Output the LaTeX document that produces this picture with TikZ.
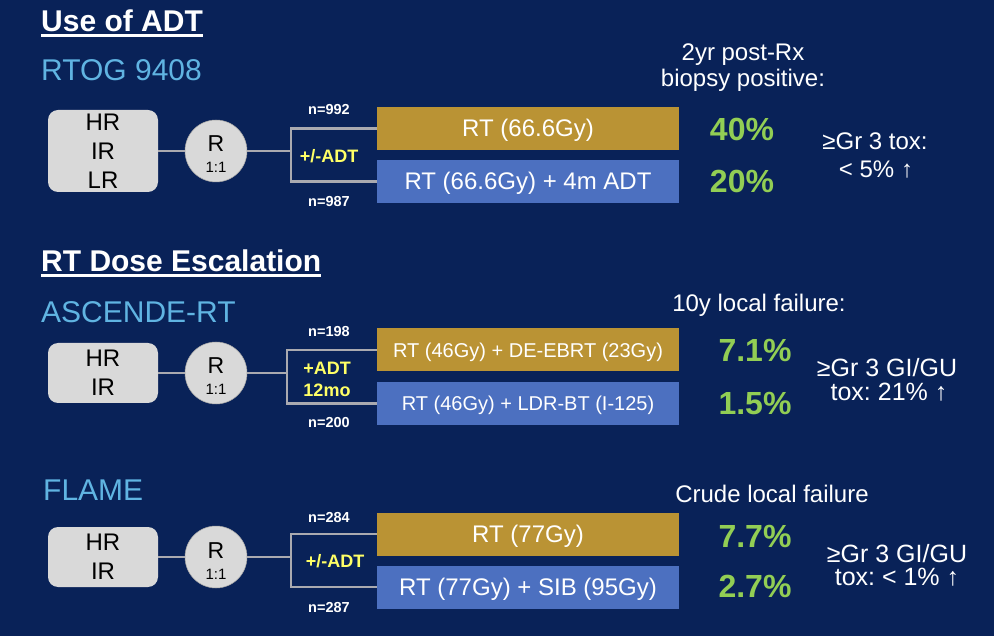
\documentclass[tikz,border=0pt]{standalone}
\usepackage{fontspec}
\setmainfont{Liberation Sans}
\usetikzlibrary{calc}
\definecolor{bg}{RGB}{9,34,88}
\definecolor{ttl}{RGB}{96,180,226}
\definecolor{gold}{RGB}{186,147,52}
\definecolor{bluebox}{RGB}{76,112,192}
\definecolor{grn}{RGB}{146,206,84}
\definecolor{ylw}{RGB}{255,255,102}
\definecolor{lgray}{RGB}{217,217,217}
\definecolor{lcol}{RGB}{170,170,176}
\frenchspacing
\begin{document}
\begin{tikzpicture}[x=1pt,y=-1pt,
  txt/.style={inner sep=0pt, anchor=base, text=white},
  hd/.style={txt, anchor=base west, font={\bfseries\fontsize{30}{36}\selectfont}},
  sub/.style={txt, anchor=base west, text=ttl, font={\fontsize{30}{36}\selectfont}},
  f24/.style={font={\fontsize{24}{29}\selectfont}},
  f25/.style={font={\fontsize{25}{29}\selectfont}},
  nlab/.style={txt, font={\bfseries\fontsize{14.5}{16}\selectfont}},
  adt/.style={txt, text=ylw, font={\bfseries\fontsize{18}{21}\selectfont}},
  pct/.style={txt, text=grn, font={\bfseries\fontsize{32}{36}\selectfont}},
  grp/.style={rounded corners=10pt, fill=lgray, align=center, text=black,
    inner sep=0pt, minimum width=110pt, font={\fontsize{24}{29}\selectfont}},
  rnd/.style={circle, fill=lgray, draw=lgray!75!black, line width=0.5pt,
    minimum size=62pt, inner sep=0pt},
  arm/.style={minimum width=302pt, minimum height=43pt, inner sep=0pt,
    text=white, text height=17pt, text depth=0pt},
  conn/.style={draw=lcol, line width=2.6pt},
  uline/.style={draw=white, line width=2.6pt}
]
\fill[bg] (0,0) rectangle (994,636);
\useasboundingbox (0,0) rectangle (994,636);

% ---------- Section 1 ----------
\node[hd] (h1) at (41,32) {Use of ADT};
\draw[uline] ([yshift=-3.5pt]h1.base west) -- ([yshift=-3.5pt]h1.base east);
\node[sub] (s1) at (41,81) {RTOG 9408};

\node[grp, minimum height=82pt] (b1) at (103,151) {HR\\IR\\LR};
\node[rnd] (r1) at (216,151) {};
\node[txt, font={\fontsize{23}{23}\selectfont}, text=black] (r1a) at (216,152) {R};
\node[txt, font={\fontsize{15}{15}\selectfont}, text=black] (r1b) at (216,173) {1:1};

\node[arm, fill=gold, f24] (g1) at (528,128.5) {RT (66.6Gy)};
\node[arm, fill=bluebox, f24] (u1) at (528,181.5) {RT (66.6Gy) + 4m ADT};
\coordinate (j1) at (291,151);
\draw[conn] (b1) -- (r1);
\draw[conn] (r1) -- (j1);
\draw[conn] (g1.west) -| (j1);
\draw[conn] (u1.west) -| (j1);
\node[adt] (a1) at (329,163) {+/-ADT};
\node[nlab] (n1a) at (329,115) {n=992};
\node[nlab] (n1b) at (329,207) {n=987};

\node[txt, f24] (c1a) at (743,61) {2yr post-Rx};
\node[txt, f24] (c1b) at (743,87) {biopsy positive:};
\node[pct] (p1a) at (742,141) {40\%};
\node[pct] (p1b) at (742,193) {20\%};
\node[txt, f24] (t1a) at (875,150) {≥Gr 3 tox:};
\node[txt, f24] (t1b) at (876,178) {< 5\% ↑};

% ---------- Section 2 ----------
\node[hd] (h2) at (41,272) {RT Dose Escalation};
\draw[uline] ([yshift=-3.5pt]h2.base west) -- ([yshift=-3.5pt]h2.base east);
\node[sub] (s2) at (41,323) {ASCENDE-RT};

\node[grp, minimum height=60pt] (b2) at (103,373) {HR\\IR};
\node[rnd] (r2) at (216,373) {};
\node[txt, font={\fontsize{23}{23}\selectfont}, text=black] (r2a) at (216,374) {R};
\node[txt, font={\fontsize{15}{15}\selectfont}, text=black] (r2b) at (216,395) {1:1};

\node[arm, fill=gold, font={\fontsize{20}{24}\selectfont}, text height=14.3pt] (g2) at (528,350) {RT (46Gy) + DE-EBRT (23Gy)};
\node[arm, fill=bluebox, font={\fontsize{20}{24}\selectfont}, text height=14.3pt] (u2) at (528,403.5) {RT (46Gy) + LDR-BT (I-125)};
\coordinate (j2) at (287,373);
\draw[conn] (b2) -- (r2);
\draw[conn] (r2) -- (j2);
\draw[conn] (g2.west) -| (j2);
\draw[conn] (u2.west) -| (j2);
\node[adt] (a2a) at (327,375) {+ADT};
\node[adt] (a2b) at (327,397) {12mo};
\node[nlab] (n2a) at (329,337) {n=198};
\node[nlab] (n2b) at (329,428) {n=200};

\node[txt, f24] (c2) at (759,312) {10y local failure:};
\node[pct] (p2a) at (755,362) {7.1\%};
\node[pct] (p2b) at (755,415) {1.5\%};
\node[txt, f25] (t2a) at (887,377) {≥Gr 3 GI/GU};
\node[txt, f25] (t2b) at (889,401) {tox: 21\% ↑};

% ---------- Section 3 ----------
\node[sub] (s3) at (43,500) {FLAME};

\node[grp, minimum height=60pt] (b3) at (103,557) {HR\\IR};
\node[rnd] (r3) at (216,557) {};
\node[txt, font={\fontsize{23}{23}\selectfont}, text=black] (r3a) at (216,558) {R};
\node[txt, font={\fontsize{15}{15}\selectfont}, text=black] (r3b) at (216,579) {1:1};

\node[arm, fill=gold, f24] (g3) at (528,534) {RT (77Gy)};
\node[arm, fill=bluebox, f24] (u3) at (528,587) {RT (77Gy) + SIB (95Gy)};
\coordinate (j3) at (291,557);
\draw[conn] (b3) -- (r3);
\draw[conn] (r3) -- (j3);
\draw[conn] (g3.west) -| (j3);
\draw[conn] (u3.west) -| (j3);
\node[adt] (a3) at (335,567) {+/-ADT};
\node[nlab] (n3a) at (329,522) {n=284};
\node[nlab] (n3b) at (329,612) {n=287};

\node[txt, f24] (c3) at (772,502) {Crude local failure};
\node[pct] (p3a) at (755,547) {7.7\%};
\node[pct] (p3b) at (755,597) {2.7\%};
\node[txt, f25] (t3a) at (897,562) {≥Gr 3 GI/GU};
\node[txt, f25] (t3b) at (897,585) {tox: < 1\% ↑};
\end{tikzpicture}
\end{document}
